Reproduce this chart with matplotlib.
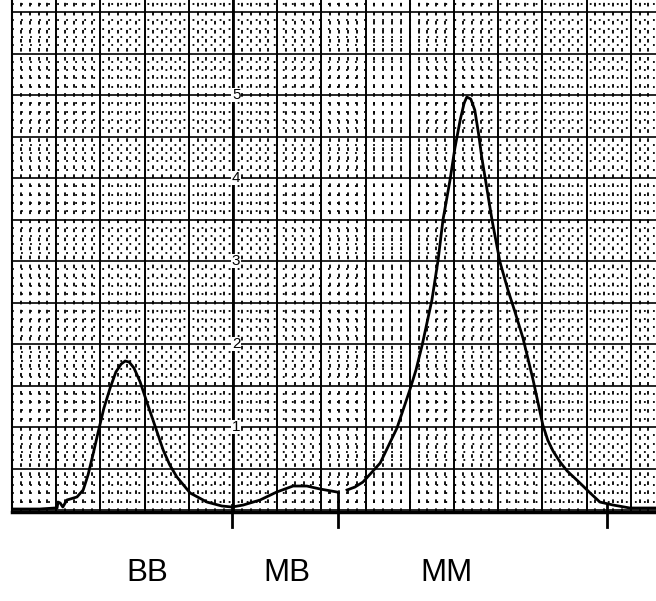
import matplotlib
matplotlib.use("Agg")
from matplotlib import pyplot as plt
from matplotlib.ticker import MultipleLocator

# trace: x in major divisions, y in scale units
bb_mb_x = [0.00, 0.63, 0.97, 1.02, 1.04, 1.09, 1.15, 1.24, 1.47, 1.61, 1.72, 1.83,
           1.95, 2.08, 2.22, 2.35, 2.47, 2.56, 2.65, 2.76, 2.90, 3.05, 3.19, 3.42,
           3.57, 3.73, 4.03, 4.41, 4.75, 4.98, 5.23, 5.61, 5.99, 6.36, 6.67, 6.97, 7.35]
bb_mb_y = [0.012, 0.012, 0.024, 0.024, 0.096, 0.084, 0.036, 0.120, 0.157, 0.241, 0.422, 0.663,
           0.940, 1.229, 1.470, 1.663, 1.759, 1.795, 1.783, 1.711, 1.542, 1.301, 1.084, 0.723,
           0.542, 0.398, 0.205, 0.096, 0.048, 0.036, 0.060, 0.120, 0.217, 0.289, 0.289, 0.253, 0.217]

mm_x = [7.58, 7.76, 7.94, 8.33, 8.71, 9.00, 9.14, 9.28, 9.50, 9.64, 9.75, 9.91, 10.02,
        10.14, 10.23, 10.29, 10.38, 10.47, 10.56, 10.63, 10.72, 10.86, 11.04, 11.22,
        11.38, 11.56, 11.79, 12.01, 12.12, 12.24, 12.40, 12.56, 12.85, 13.08, 13.30,
        13.60, 13.98, 14.57]
mm_y = [0.241, 0.277, 0.337, 0.566, 0.988, 1.446, 1.687, 1.988, 2.530, 3.012, 3.494, 3.976, 4.361,
        4.699, 4.904, 4.976, 4.952, 4.819, 4.518, 4.241, 3.952, 3.494, 2.988, 2.651,
        2.386, 2.072, 1.566, 1.024, 0.843, 0.711, 0.578, 0.470, 0.325, 0.205, 0.096,
        0.060, 0.024, 0.024]

scale_labels = ["1", "2", "3", "4", "5"]
scale_values = [1, 2, 3, 4, 5]
scale_axis_x = 5.0

marks_x = [4.98, 7.38, 13.46]
marks_top = [0.06, 0.20, 0.06]

fraction_names = ["BB", "MB", "MM"]
fraction_x = [3.05, 6.22, 9.82]


def main():
    fig = plt.figure(figsize=(6.56, 6.01), dpi=100)
    ax = fig.add_axes([12 / 656, 89 / 601, 644 / 656, 512 / 601])
    ax.set_xlim(0, 14.57)
    ax.set_ylim(-0.024, 6.145)

    # chart paper
    ax.xaxis.set_major_locator(MultipleLocator(1))
    ax.xaxis.set_minor_locator(MultipleLocator(0.2))
    ax.yaxis.set_major_locator(MultipleLocator(0.5))
    ax.yaxis.set_minor_locator(MultipleLocator(0.1))
    ax.grid(which="major", axis="x", color="black", lw=1.4)
    ax.grid(which="major", axis="y", color="black", lw=1.2)
    ax.grid(which="minor", axis="x", color="black", lw=1.3, ls=(0, (2, 3)))
    ax.grid(which="minor", axis="y", color="black", lw=1.3, ls=(0, (1, 4)))
    ax.tick_params(which="both", length=0, labelbottom=False, labelleft=False)
    ax.set_axisbelow(True)
    for s in ["top", "right"]:
        ax.spines[s].set_visible(False)
    ax.spines["left"].set_linewidth(1.5)
    ax.spines["bottom"].set_linewidth(2.5)

    ax.axvline(scale_axis_x, color="black", lw=2.0)
    for v, lab in zip(scale_values, scale_labels):
        ax.text(scale_axis_x + 0.07, v, lab, ha="center", va="center", fontsize=11,
                fontfamily="Liberation Sans",
                bbox=dict(facecolor="white", edgecolor="none", pad=0.3))

    # trace
    ax.plot(bb_mb_x, bb_mb_y, color="black", lw=2, solid_joinstyle="round")
    ax.plot(mm_x, mm_y, color="black", lw=2, solid_joinstyle="round")

    for mx, top in zip(marks_x, marks_top):
        ax.plot([mx, mx], [top, -0.2], color="black", lw=2, clip_on=False)

    for name, fx in zip(fraction_names, fraction_x):
        ax.text(fx, -0.76, name, ha="center", va="center", fontsize=22.5,
                fontfamily="Liberation Sans", clip_on=False)

    fig.savefig("out.png", dpi=100)


if __name__ == "__main__":
    main()
